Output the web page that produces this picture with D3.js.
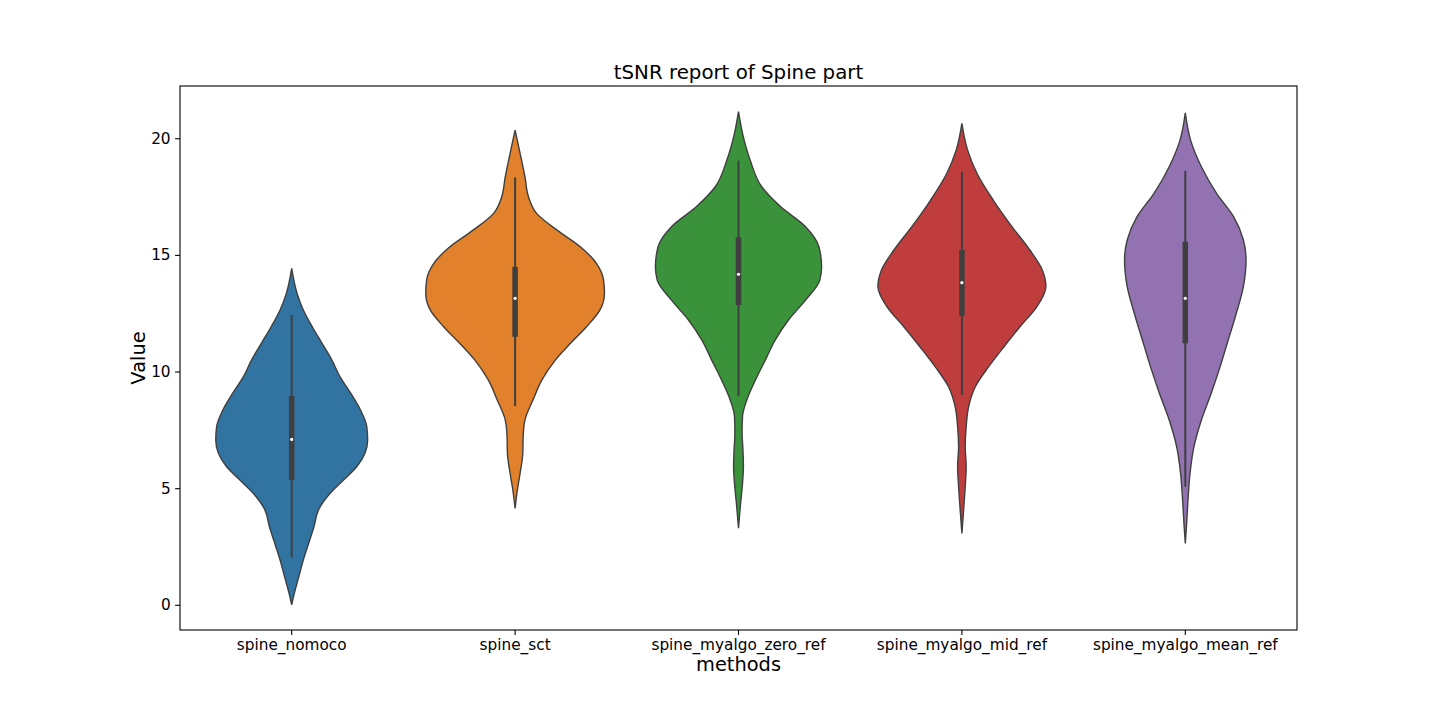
<!DOCTYPE html>
<html>
<head>
<meta charset="utf-8">
<script src="https://cdn.jsdelivr.net/npm/d3@7"></script>
<style>
  body { margin: 0; background: #fff; }
  text { font-family: "DejaVu Sans", sans-serif; fill: #000; }
</style>
</head>
<body>
<div class="chart"></div>
<script>
// categories and colours
const methods = ["spine_nomoco", "spine_sct", "spine_myalgo_zero_ref", "spine_myalgo_mid_ref", "spine_myalgo_mean_ref"];
const colors = ["#3274a1", "#e1812c", "#3a923a", "#c03d3e", "#9372b2"];
const yTicks = [0, 5, 10, 15, 20];

// violin outlines: [value, relative half width]
const nomocoDensity = [[14.42,0],[13.35,0.06],[12.64,0.13],[11.92,0.23],[11.21,0.34],[10.49,0.45],[9.78,0.54],[9.07,0.66],[8.35,0.77],[7.64,0.84],[7.07,0.85],[6.5,0.82],[5.93,0.73],[5.35,0.58],[4.78,0.43],[4.07,0.30],[3.35,0.25],[2.64,0.19],[1.92,0.13],[1.21,0.08],[0.5,0.03],[0,0]];
const sctDensity = [[20.35,0],[19.35,0.056],[18.35,0.11],[17.49,0.15],[16.78,0.24],[16.06,0.47],[15.35,0.73],[14.64,0.91],[13.92,0.99],[13.35,1.0],[12.64,0.95],[11.92,0.80],[11.21,0.62],[10.49,0.45],[9.64,0.30],[8.78,0.20],[7.92,0.11],[7.21,0.09],[6.49,0.086],[5.64,0.056],[4.78,0.02],[4.13,0]];
const zeroRefDensity = [[21.14,0],[20.21,0.045],[19.07,0.13],[17.92,0.26],[17.07,0.47],[16.21,0.75],[15.35,0.90],[14.49,0.93],[13.92,0.91],[13.06,0.75],[12.21,0.56],[11.35,0.41],[10.49,0.30],[9.64,0.19],[8.78,0.093],[8.07,0.045],[7.35,0.04],[6.64,0.05],[5.92,0.055],[5.21,0.045],[4.21,0.02],[3.28,0]];
const midRefDensity = [[20.64,0],[19.49,0.064],[18.49,0.17],[17.35,0.35],[16.21,0.56],[15.21,0.76],[14.35,0.90],[13.64,0.94],[12.78,0.84],[11.92,0.65],[11.06,0.47],[10.21,0.30],[9.35,0.15],[8.49,0.075],[7.64,0.048],[6.78,0.037],[5.92,0.048],[5.06,0.037],[4.06,0.019],[3.06,0]];
const meanRefDensity = [[21.09,0],[19.92,0.059],[18.78,0.18],[17.64,0.35],[16.64,0.54],[15.64,0.65],[14.78,0.68],[13.64,0.65],[12.49,0.57],[11.35,0.48],[10.21,0.39],[9.07,0.29],[7.92,0.18],[6.78,0.097],[5.64,0.053],[4.49,0.03],[3.49,0.015],[2.63,0]];
const densities = [nomocoDensity, sctDensity, zeroRefDensity, midRefDensity, meanRefDensity];

// inner box stats
const whiskerLow = [2.02, 8.52, 8.95, 8.99, 5.06];
const q1 = [5.35, 11.49, 12.85, 12.38, 11.21];
const median = [7.09, 13.14, 14.17, 13.81, 13.14];
const q3 = [8.95, 14.49, 15.75, 15.21, 15.56];
const whiskerHigh = [12.42, 18.32, 19.04, 18.56, 18.61];

const W = 1440, H = 720;
const margin = { top: 86, left: 180, bottom: 90, right: 143 };
const width = W - margin.left - margin.right,
  height = H - margin.top - margin.bottom;

const svg = d3
  .select(".chart")
  .append("svg")
  .attr("width", W)
  .attr("height", H);

const g = svg.append("g").attr("transform", `translate(${margin.left},${margin.top})`);

const xScale = d3.scaleBand().domain(methods).range([0, width]).padding(0);
const yScale = d3.scaleLinear().domain([-1.08, 22.24]).range([height, 0]);
const wScale = d3.scaleLinear().domain([0, 1]).range([0, xScale.bandwidth() * 0.4]);

const edge = "#3f3f3f";

methods.forEach((m, i) => {
  const cx = xScale(m) + xScale.bandwidth() / 2;
  const area = d3
    .area()
    .y((d) => yScale(d[0]))
    .x0((d) => cx - wScale(d[1]))
    .x1((d) => cx + wScale(d[1]))
    .curve(d3.curveMonotoneY);

  g.append("path")
    .datum(densities[i])
    .attr("d", area)
    .attr("fill", colors[i])
    .attr("stroke", edge)
    .attr("stroke-width", 1.4);

  // whisker
  g.append("line")
    .attr("x1", cx).attr("x2", cx)
    .attr("y1", yScale(whiskerLow[i]))
    .attr("y2", yScale(whiskerHigh[i]))
    .attr("stroke", edge)
    .attr("stroke-width", 2);

  // box
  g.append("line")
    .attr("x1", cx).attr("x2", cx)
    .attr("y1", yScale(q1[i]))
    .attr("y2", yScale(q3[i]))
    .attr("stroke", edge)
    .attr("stroke-width", 5.5);

  g.append("circle")
    .attr("cx", cx)
    .attr("cy", yScale(median[i]))
    .attr("r", 1.6)
    .attr("fill", "#fff");
});

const yAxis = d3.axisLeft(yScale).tickValues(yTicks).tickSize(4.9).tickPadding(4.5);
const yG = g.append("g").call(yAxis);
yG.select(".domain").remove();
yG.selectAll("text").style("font-size", "15.3px").attr("fill", "#000");
yG.selectAll("line").attr("stroke", "#000").attr("stroke-width", 1.1);

const xAxis = d3.axisBottom(xScale).tickSize(4.9).tickPadding(4.5);
const xG = g.append("g").attr("transform", `translate(0,${height})`).call(xAxis);
xG.select(".domain").remove();
xG.selectAll("text").style("font-size", "15.3px").attr("fill", "#000");
xG.selectAll("line").attr("stroke", "#000").attr("stroke-width", 1.1);

// frame
g.append("rect")
  .attr("width", width)
  .attr("height", height)
  .attr("fill", "none")
  .attr("stroke", "#000")
  .attr("stroke-width", 1.1);

svg.append("text")
  .attr("x", margin.left + width / 2)
  .attr("y", 79)
  .attr("text-anchor", "middle")
  .style("font-size", "19.8px")
  .text("tSNR report of Spine part");

svg.append("text")
  .attr("x", margin.left + width / 2)
  .attr("y", 671)
  .attr("text-anchor", "middle")
  .style("font-size", "19.4px")
  .text("methods");

svg.append("text")
  .attr("transform", `translate(145,${margin.top + height / 2}) rotate(-90)`)
  .attr("text-anchor", "middle")
  .style("font-size", "19.4px")
  .text("Value");
</script>
</body>
</html>
